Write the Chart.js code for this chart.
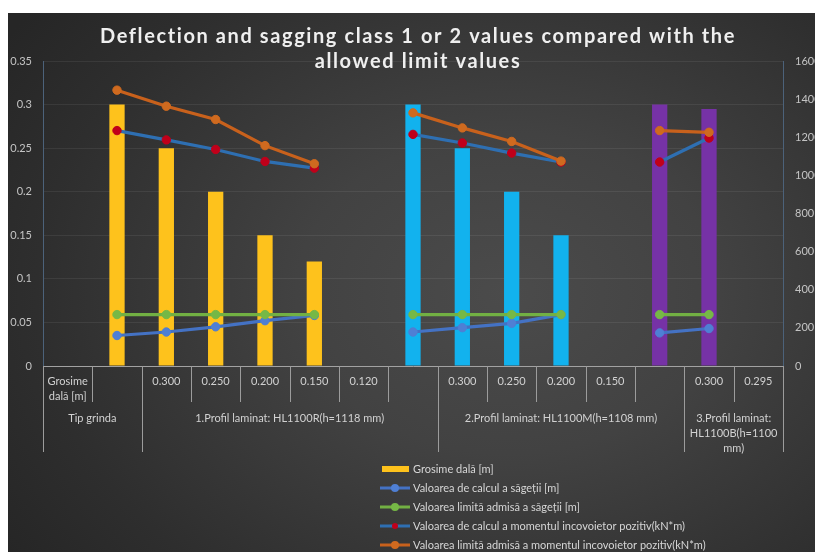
<!DOCTYPE html>
<html>
<head>
  <meta charset="UTF-8">
  <title>Deflection and sagging class 1 or 2</title>
  <script src="https://cdn.jsdelivr.net/npm/chart.js"></script>
  <style>
    html, body {
      margin: 0;
      padding: 0;
      background: #fff;
      overflow: hidden;
    }
    .panel {
      position: absolute;
      left: 8px;
      top: 13px;
      width: 807px;
      height: 539px;
      background: radial-gradient(ellipse 75% 85% at 62% 52%, #4b4b4b 0%, #424242 35%, #2e2e2e 78%, #262626 100%);
    }
  </style>
</head>
<body>
  <div class="panel"><canvas id="chart"></canvas></div>

  <script>
    // lower level of the category axis (one entry per column)
    const categories = [['Grosime', 'dală [m]'], '', '0.300', '0.250', '0.200', '0.150', '0.120',
                        '', '0.300', '0.250', '0.200', '0.150', '', '0.300', '0.295'];
    // upper level: beam type groups, by first/last column index
    const groups = [
      { label: ['Tip grinda'], from: 0, to: 1 },
      { label: ['1.Profil laminat: HL1100R(h=1118 mm)'], from: 2, to: 7 },
      { label: ['2.Profil laminat: HL1100M(h=1108 mm)'], from: 8, to: 12 },
      { label: ['3.Profil laminat:', 'HL1100B(h=1100', 'mm)'], from: 13, to: 14 }
    ];

    const grosimeDala   = [null, 0.3, 0.25, 0.2, 0.15, 0.12, null, 0.3, 0.25, 0.2, 0.15, null, 0.3, 0.295, null];
    const sagetCalcul   = [null, 0.035, 0.039, 0.045, 0.052, 0.058, null, 0.039, 0.044, 0.049, 0.059, null, 0.038, 0.043, null];
    const sagetLimita   = [null, 0.059, 0.059, 0.059, 0.059, 0.059, null, 0.059, 0.059, 0.059, 0.059, null, 0.059, 0.059, null];
    const momentCalcul  = [null, 1235, 1186, 1136, 1073, 1038, null, 1215, 1170, 1117, 1070, null, 1070, 1196, null];
    const momentLimita  = [null, 1447, 1363, 1293, 1156, 1061, null, 1328, 1249, 1178, 1075, null, 1235, 1226, null];

    const titleLines = ['Deflection and sagging class 1 or 2 values compared with the', 'allowed limit values'];

    const FONT = 'Lato, "Open Sans", sans-serif';
    const YELLOW = '#fec21c', CYAN = '#12b2ee', PURPLE = '#7632a6';
    const barColors = grosimeDala.map((v, i) => i <= 6 ? YELLOW : i <= 11 ? CYAN : PURPLE);

    Chart.defaults.font.family = FONT;
    Chart.defaults.color = '#c4c4c4';

    const titleText = {
      id: 'titleText',
      afterDraw(chart) {
        const ctx = chart.ctx;
        ctx.save();
        ctx.font = 'bold 20px ' + FONT;
        ctx.letterSpacing = '1.6px';
        ctx.fillStyle = '#efefef';
        ctx.textAlign = 'center';
        ctx.textBaseline = 'alphabetic';
        titleLines.forEach((t, i) => ctx.fillText(t, 410, 30 + i * 25));
        ctx.restore();
      }
    };

    // two-level category table under the x axis
    const categoryTable = {
      id: 'categoryTable',
      afterDraw(chart) {
        const x = chart.scales.x, ctx = chart.ctx;
        const top = x.top;
        const step = x.getPixelForValue(1) - x.getPixelForValue(0);
        const edge = i => x.getPixelForValue(0) - step / 2 + i * step;
        const groupEdges = new Set(groups.flatMap(g => [g.from, g.to + 1]));

        ctx.save();
        ctx.strokeStyle = '#9c9c9c';
        ctx.lineWidth = 1;
        for (let i = 0; i <= categories.length; i++) {
          const px = Math.round(edge(i)) + 0.5;
          const len = groupEdges.has(i) ? 86 : 36;
          ctx.beginPath();
          ctx.moveTo(px, top);
          ctx.lineTo(px, top + len);
          ctx.stroke();
        }

        ctx.fillStyle = '#d2d2d2';
        ctx.font = '11px ' + FONT;
        ctx.textAlign = 'center';
        ctx.textBaseline = 'middle';
        categories.forEach((c, i) => {
          [].concat(c).forEach((line, j) => ctx.fillText(line, x.getPixelForValue(i), top + 15 + j * 15));
        });
        groups.forEach(g => {
          const cx = (edge(g.from) + edge(g.to + 1)) / 2;
          g.label.forEach((line, j) => ctx.fillText(line, cx, top + 52 + j * 15));
        });
        ctx.restore();
      }
    };

    // vertical legend list below the table
    const legendList = {
      id: 'legendList',
      afterDraw(chart) {
        const ctx = chart.ctx;
        const y0 = chart.chartArea.bottom + 103;
        ctx.save();
        ctx.font = '11px ' + FONT;
        ctx.textAlign = 'left';
        ctx.textBaseline = 'middle';
        chart.data.datasets.forEach((ds, i) => {
          const y = y0 + i * 19;
          if (ds.type === 'bar') {
            ctx.fillStyle = YELLOW;
            ctx.fillRect(374, y - 3, 27, 6);
          } else {
            ctx.strokeStyle = ds.borderColor;
            ctx.lineWidth = 3;
            ctx.beginPath();
            ctx.moveTo(372, y);
            ctx.lineTo(402, y);
            ctx.stroke();
            ctx.fillStyle = ds.pointBackgroundColor;
            ctx.beginPath();
            ctx.arc(387, y, i === 3 ? 3 : 4, 0, Math.PI * 2);
            ctx.fill();
          }
          ctx.fillStyle = '#d6d6d6';
          ctx.fillText(ds.label, 405, y);
        });
        ctx.restore();
      }
    };

    const lineStyle = (color, point) => ({
      type: 'line',
      borderColor: color,
      backgroundColor: point,
      pointBackgroundColor: point,
      pointBorderColor: point,
      borderWidth: 3.2,
      pointRadius: 4.2,
      pointBorderWidth: 1,
      pointHoverRadius: 4.2
    });

    new Chart(document.getElementById('chart'), {
      data: {
        labels: categories,
        datasets: [
          {
            type: 'bar',
            label: 'Grosime dală [m]',
            data: grosimeDala,
            backgroundColor: barColors,
            barPercentage: 0.31,
            categoryPercentage: 1,
            yAxisID: 'y',
            order: 5
          },
          Object.assign(lineStyle('#4472c4', '#4f7fd4'), {
            label: 'Valoarea de calcul a săgeții [m]', data: sagetCalcul, yAxisID: 'y', order: 4
          }),
          Object.assign(lineStyle('#72b043', '#76b846'), {
            label: 'Valoarea limită admisă a săgeții [m]', data: sagetLimita, yAxisID: 'y', order: 3
          }),
          Object.assign(lineStyle('#2e6fb2', '#c0001a'), {
            label: 'Valoarea de calcul a momentul incovoietor pozitiv(kN*m)', data: momentCalcul, yAxisID: 'y1', order: 2
          }),
          Object.assign(lineStyle('#c8611c', '#cf6a1f'), {
            label: 'Valoarea limită admisă a momentul incovoietor pozitiv(kN*m)', data: momentLimita, yAxisID: 'y1', order: 1
          })
        ]
      },
      options: {
        responsive: true,
        maintainAspectRatio: false,
        animation: false,
        layout: { padding: { top: 48, bottom: 186, left: 0, right: 0 } },
        plugins: {
          legend: { display: false },
          title: { display: false },
          tooltip: { enabled: false }
        },
        scales: {
          x: {
            offset: true,
            ticks: { display: false },
            grid: { display: false, drawTicks: false },
            border: { display: true, color: '#a2a2a2' },
            afterFit: s => { s.height = 0; }
          },
          y: {
            position: 'left',
            min: 0,
            max: 0.35,
            ticks: {
              stepSize: 0.05,
              padding: 11,
              color: '#c4c4c4',
              font: { size: 11 },
              callback: v => String(parseFloat(v.toFixed(2)))
            },
            grid: { color: 'rgba(255,255,255,0.07)', drawTicks: false },
            border: { color: '#4c627a' },
            afterFit: s => { s.width = 35; }
          },
          y1: {
            position: 'right',
            min: 0,
            max: 1600,
            ticks: {
              stepSize: 200,
              padding: 12,
              color: '#c4c4c4',
              font: { size: 11 },
              callback: v => String(v)
            },
            grid: { drawOnChartArea: false, drawTicks: false },
            border: { color: '#4c627a' },
            afterFit: s => { s.width = 32; }
          }
        }
      },
      plugins: [categoryTable, legendList, titleText]
    });
  </script>
</body>
</html>
